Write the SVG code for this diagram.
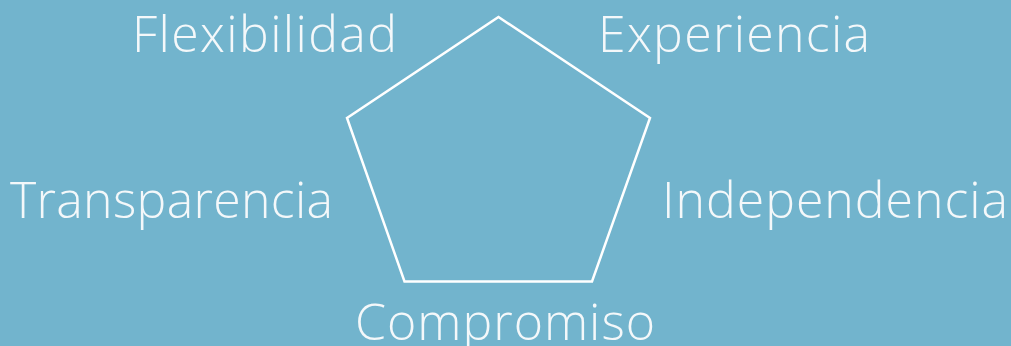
<svg xmlns="http://www.w3.org/2000/svg" width="1011" height="346" viewBox="0 0 1011 346">
<style>
.lbl{font-family:"Open Sans","Lato","Liberation Sans",sans-serif;font-weight:300;font-size:50px;fill:#F4F8FA}
.edge{fill:none;stroke:#FFFFFF;stroke-width:2.5;stroke-linejoin:miter}
</style>
<rect width="1011" height="346" fill="#72B4CD"/>
<g id="connectors">
<polygon class="edge" points="498.5,17 650,118 592,281.5 404.5,281.5 347,118"/>
</g>
<g id="n-flexibilidad"><text class="lbl" x="132" y="52" textLength="265">Flexibilidad</text></g>
<g id="n-experiencia"><text class="lbl" x="598" y="52" textLength="272">Experiencia</text></g>
<g id="n-transparencia"><text class="lbl" x="10" y="218" textLength="323">Transparencia</text></g>
<g id="n-independencia"><text class="lbl" x="662" y="218" textLength="346">Independencia</text></g>
<g id="n-compromiso"><text class="lbl" x="355" y="340" textLength="300">Compromiso</text></g>
</svg>
